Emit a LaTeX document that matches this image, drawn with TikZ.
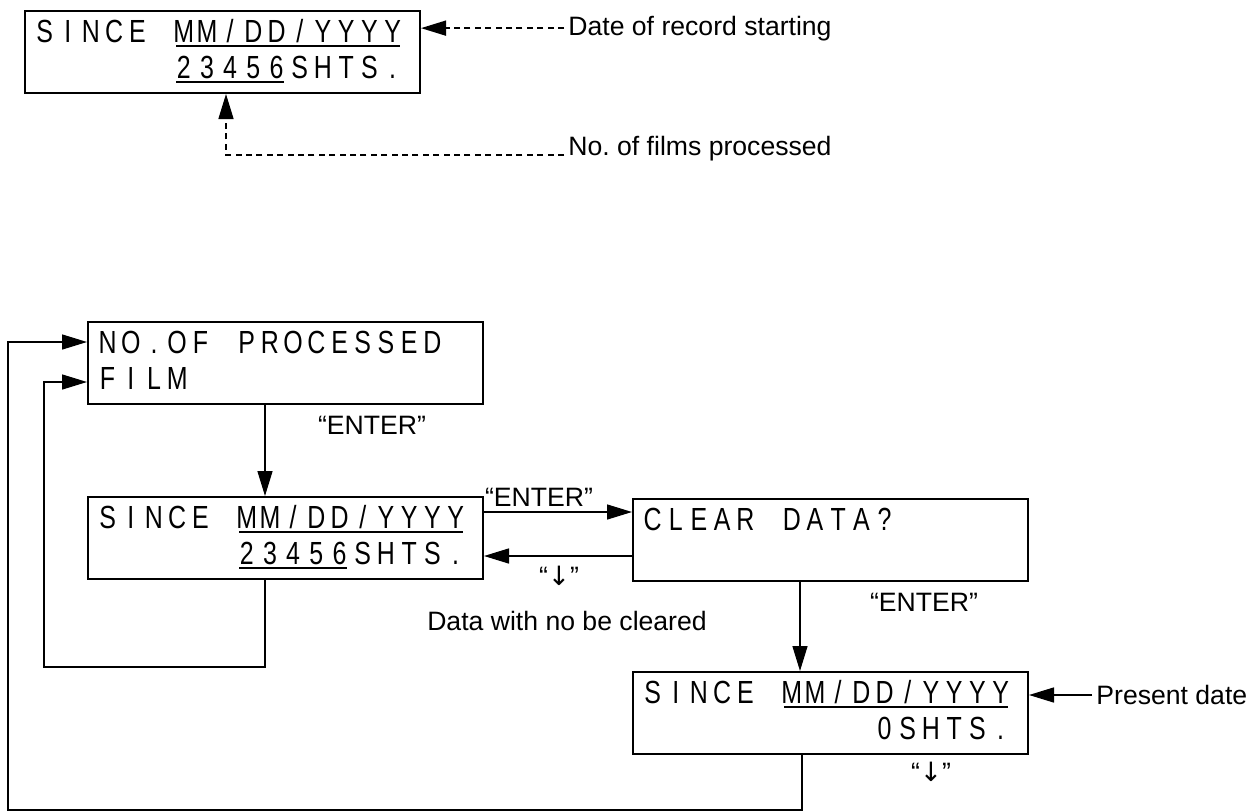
\documentclass[tikz,border=0pt]{standalone}
\usepackage{fontspec}
\setmainfont{Liberation Sans}
\newfontfamily\lcdfont[FakeStretch=0.78]{Liberation Sans}
\newfontfamily\symfont{DejaVu Sans}
\usepackage{tikz}
\usetikzlibrary{arrows.meta, positioning, calc}
\newlength{\cellw}
\setlength{\cellw}{11.6pt}
\makeatletter
\newcommand{\cells}[1]{\@tfor\lcdch:=#1\do{\makebox[\cellw]{\lcdch}}}
\makeatother
\newcommand{\lcdul}[1]{\sbox0{#1}\rlap{\kern2pt\rule[-2.5pt]{\dimexpr\wd0-4pt\relax}{1pt}}\usebox0}
\newcommand{\lcd}[2]{\vbox to 41pt{\offinterlineskip\hsize=197.5pt\kern15.5pt\hbox to 197.5pt{\kern4pt\smash{#1}\hss}\kern18pt\hbox to 197.5pt{\kern4pt\smash{#2}\hss}\vss}}
\newcommand{\dn}{“{\symfont ↓}”}

\begin{document}
\begin{tikzpicture}[x=0.5pt, y=-0.5pt,
    lcdbox/.style={draw, line width=1pt, inner sep=0pt, anchor=north west, font={\lcdfont\fontsize{16}{19}\selectfont}},
    lbl/.style={inner sep=2pt, font={\fontsize{13.3}{15}\selectfont}},
    flow/.style={line width=0.75pt, -{Triangle[length=12.5pt, width=7.5pt]}},
    note/.style={flow, dash pattern=on 3pt off 2.2pt}]
  \useasboundingbox (0,0) rectangle (1255,810);
  % ================================================================
  % display explained
  % ================================================================
  \node[lcdbox] (record) at (24,10) {\lcd{\cells{SINCE~}\lcdul{\cells{MM/DD/YYYY}}}{\cells{~~~~~~}\lcdul{\cells{23456}}\cells{SHTS.}}};
  \node[lbl, anchor=base west] (lblstart) at (564,35) {Date of record starting};
  \node[lbl, anchor=base west] (lblfilms) at (564,155) {No.\ of films processed};
  \draw[note] (lblstart.west) -- (lblstart.west -| record.east);
  \draw[note] (lblfilms.base west) -| ([xshift=101pt]record.south west);
  % ================================================================
  % key sequence
  % ================================================================
  % boxes ----------------------------------------------------------
  \node[lcdbox] (film) at (87,321) {\lcd{\cells{NO.OF~PROCESSED}}{\cells{FILM}}};
  \node[lcdbox] (count) at (87,496) {\lcd{\cells{SINCE~}\lcdul{\cells{MM/DD/YYYY}}}{\cells{~~~~~~}\lcdul{\cells{23456}}\cells{SHTS.}}};
  \node[lcdbox] (clear) at (632,498) {\lcd{\cells{CLEAR~DATA?}}{}};
  \node[lcdbox] (reset) at (632,671) {\lcd{\cells{SINCE~}\lcdul{\cells{MM/DD/YYYY}}}{\cells{~~~~~~~~~~0SHTS.}}};
  % labels ---------------------------------------------------------
  \node[lbl] (enterA) at (372,425) {“ENTER”};
  \node[lbl] (enterB) at (539,497) {“ENTER”};
  \node[lbl] (enterC) at (924,602) {“ENTER”};
  \node[lbl] (downA) at (559,576) {\dn};
  \node[lbl] (downB) at (931,772) {\dn};
  \node[lbl] (lblkeep) at (567,621) {Data with no be cleared};
  \node[lbl, anchor=west] (lblpresent) at (1092,695) {Present date};
  % connectors -----------------------------------------------------
  \coordinate (clearout) at ([xshift=84pt]clear.south west);
  \draw[flow] ([xshift=89pt]film.south west) -- ([xshift=89pt]count.north west);
  \draw[flow] ([yshift=-8pt]count.north east) -- ([yshift=-8pt]count.north east -| clear.west);
  \draw[flow] ([yshift=-8pt]clear.west) -- ([yshift=-8pt]clear.west -| count.east);
  \draw[flow] (clearout) -- (clearout |- reset.north);
  \draw[flow] (lblpresent.west) -- (lblpresent.west -| reset.east);
  \draw[flow] ([xshift=89pt]count.south west) -- ++(0,87) -| ([shift={(-21.5pt,-9.5pt)}]film.west) -- ([yshift=-9.5pt]film.west);
  \draw[flow] ([xshift=85pt]reset.south west) -- ++(0,55) -| ([shift={(-39.5pt,10.5pt)}]film.west) -- ([yshift=10.5pt]film.west);
\end{tikzpicture}
\end{document}
